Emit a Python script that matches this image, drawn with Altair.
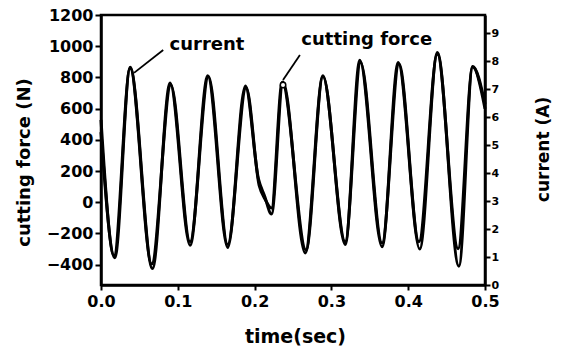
import altair as alt
import pandas as pd

# ---- data ----
force_time = [0.000, 0.018, 0.038, 0.067, 0.090, 0.116, 0.139, 0.165, 0.188, 0.205, 0.213,
              0.222, 0.237, 0.266, 0.289, 0.318, 0.337, 0.366, 0.387, 0.415, 0.438, 0.466,
              0.484, 0.500]
force_vals = [450, -355, 865, -425, 765, -275, 810, -290, 745, 150, 40,
              -75, 770, -325, 810, -270, 910, -285, 895, -300, 960, -410,
              870, 630]

current_time = [0.000, 0.017, 0.038, 0.066, 0.091, 0.116, 0.140, 0.165, 0.189, 0.206, 0.214,
                0.222, 0.236, 0.267, 0.289, 0.318, 0.338, 0.366, 0.388, 0.414, 0.438, 0.465,
                0.484, 0.500]
current_vals = [5.9, 1.05, 7.75, 0.75, 7.15, 1.55, 7.45, 1.45, 7.05, 3.55, 3.05,
                2.75, 7.25, 1.25, 7.45, 1.55, 7.95, 1.50, 7.90, 1.55, 8.25, 1.30,
                7.80, 6.30]

label_text = ["current", "cutting force"]
label_time = [0.138, 0.346]
label_force = [1008, 1040]

pointer_time = [0.081, 0.259]
pointer_force = [976, 944]
pointer_time2 = [0.043, 0.237]
pointer_force2 = [829, 784]

marker_time = [0.237]
marker_force = [752]

force_ticks = [-400, -200, 0, 200, 400, 600, 800, 1000, 1200]
current_ticks = [0, 1, 2, 3, 4, 5, 6, 7, 8, 9]
time_ticks = [0.0, 0.1, 0.2, 0.3, 0.4, 0.5]

FONT = "DejaVu Sans"

df_force = pd.DataFrame({"time": force_time, "force": force_vals})
df_current = pd.DataFrame({"time": current_time, "current": current_vals})
df_labels = pd.DataFrame({"time": label_time, "force": label_force, "text": label_text})
df_pointer = pd.DataFrame({"time": pointer_time, "force": pointer_force,
                           "time2": pointer_time2, "force2": pointer_force2})
df_marker = pd.DataFrame({"time": marker_time, "force": marker_force})

x_scale = alt.Scale(domain=[0, 0.5], nice=False, zero=False)
f_scale = alt.Scale(domain=[-530, 1200], nice=False, zero=False)
c_scale = alt.Scale(domain=[0, 9.65], nice=False, zero=False)

x_axis = alt.Axis(values=time_ticks, format=".1f", title="time(sec)", grid=False,
                  titleX=194, titleY=51, titleBaseline="middle", titleAlign="center",
                  titleFontSize=19, labelFontSize=16, labelPadding=3, tickSize=5,
                  labelFlush=False)

f_axis = alt.Axis(values=force_ticks, format="d", title="cutting force (N)", grid=False,
                  orient="left", titleAngle=270, titleX=-77, titleY=147, titleBaseline="middle",
                  titleAlign="center", titleFontSize=18, labelFontSize=16,
                  labelPadding=2, tickSize=6, labelFlush=False)

c_axis = alt.Axis(values=current_ticks, format="d", title="current (A)", grid=False,
                  orient="right", titleAngle=270, titleX=58, titleY=134, titleBaseline="middle",
                  titleAlign="center", titleFontSize=17, labelFontSize=11,
                  labelPadding=1, tickSize=5, labelFlush=False)

current_line = alt.Chart(df_current).mark_line(color="black", strokeWidth=3, interpolate="monotone").encode(
    x=alt.X("time:Q", scale=x_scale, axis=x_axis),
    y=alt.Y("current:Q", scale=c_scale, axis=c_axis),
)

force_line = alt.Chart(df_force).mark_line(color="black", strokeWidth=3, interpolate="monotone").encode(
    x=alt.X("time:Q", scale=x_scale, axis=x_axis),
    y=alt.Y("force:Q", scale=f_scale, axis=f_axis),
)

labels = alt.Chart(df_labels).mark_text(font=FONT, fontWeight="bold", fontSize=18,
                                         color="black", align="center", baseline="middle").encode(
    x=alt.X("time:Q", scale=x_scale, axis=x_axis),
    y=alt.Y("force:Q", scale=f_scale, axis=f_axis),
    text="text:N",
)

pointers = alt.Chart(df_pointer).mark_rule(color="black", strokeWidth=1.8).encode(
    x=alt.X("time:Q", scale=x_scale, axis=x_axis),
    y=alt.Y("force:Q", scale=f_scale, axis=f_axis),
    x2="time2:Q",
    y2="force2:Q",
)

marker = alt.Chart(df_marker).mark_point(shape="circle", filled=True, fill="white",
                                         stroke="black", strokeWidth=1.5, size=30, opacity=1).encode(
    x=alt.X("time:Q", scale=x_scale, axis=x_axis),
    y=alt.Y("force:Q", scale=f_scale, axis=f_axis),
)

force_group = alt.layer(force_line, pointers, labels, marker)

chart = alt.layer(current_line, force_group).resolve_scale(y="independent").properties(
    width=384, height=270,
    padding={"left": 101, "top": 15, "right": 80, "bottom": 67},
    autosize=alt.AutoSizeParams(type="none"),
    background="white",
).configure_view(
    stroke="black", strokeWidth=2.5
).configure_axis(
    domainColor="black", domainWidth=2.5, tickColor="black", tickWidth=2,
    labelColor="black", titleColor="black", labelFont=FONT, titleFont=FONT,
    labelFontWeight="bold", titleFontWeight="bold",
)

chart.save("out.html", embed_options={"renderer": "svg", "actions": False})
